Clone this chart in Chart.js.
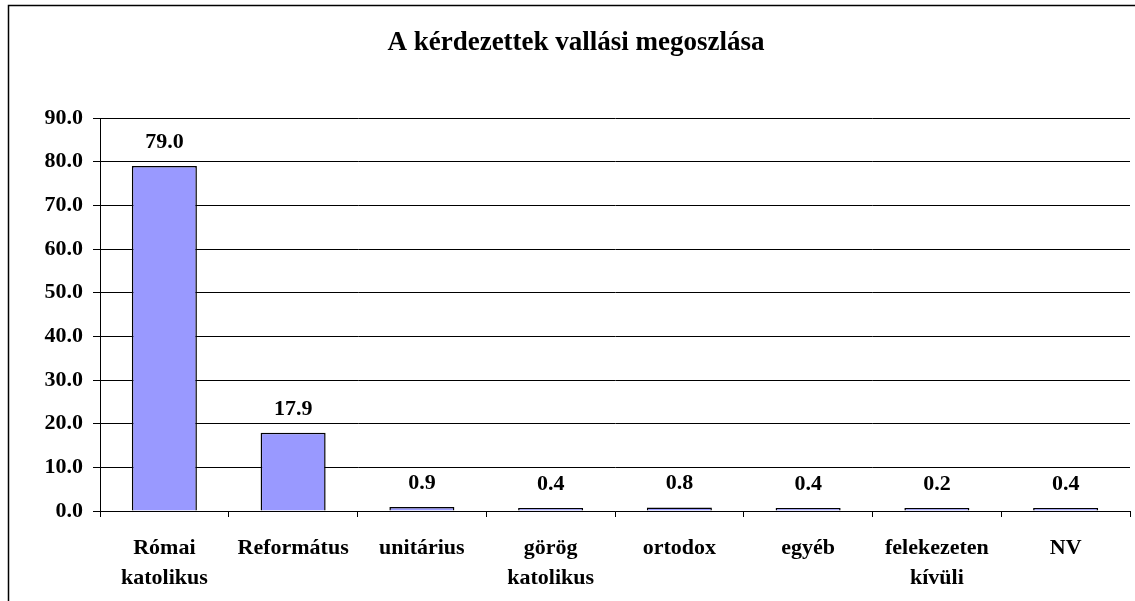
<!DOCTYPE html>
<html>
<head>
<meta charset="utf-8">
<script src="https://cdn.jsdelivr.net/npm/chart.js@4.4.1/dist/chart.umd.min.js"></script>
<style>
  html, body { margin: 0; padding: 0; background: #fff; }
  #wrap { width: 1135px; height: 601px; }
</style>
</head>
<body>
<div id="wrap"><canvas id="chart-vallas"></canvas></div>
<script>
// Adatok
const kategoriak = [
    ['Római', 'katolikus'],
    'Református',
    'unitárius',
    ['görög', 'katolikus'],
    'ortodox',
    'egyéb',
    ['felekezeten', 'kívüli'],
    'NV'
];
const aranyok = [79.0, 17.9, 0.9, 0.4, 0.8, 0.4, 0.2, 0.4];
const yTickek = [0, 10, 20, 30, 40, 50, 60, 70, 80, 90];

const betu = 'Liberation Serif, "Times New Roman", serif';

// Keret a diagram körül
const keretPlugin = {
    id: 'keret',
    beforeDraw(chart) {
        const ctx = chart.ctx;
        ctx.save();
        ctx.strokeStyle = '#000';
        ctx.lineWidth = 1.5;
        ctx.strokeRect(8.5, 5.5, 2000, 2000);
        ctx.restore();
    }
};

// Értékek az oszlopok fölött
const ertekPlugin = {
    id: 'ertekek',
    afterDatasetsDraw(chart) {
        const ctx = chart.ctx;
        const meta = chart.getDatasetMeta(0);
        ctx.save();
        ctx.font = 'bold 22px ' + betu;
        ctx.fillStyle = '#000';
        ctx.textAlign = 'center';
        ctx.textBaseline = 'middle';
        meta.data.forEach((bar, i) => {
            ctx.fillText(aranyok[i].toFixed(1), bar.x, bar.y - 24);
        });
        ctx.restore();
    }
};

const ctx = document.getElementById('chart-vallas').getContext('2d');

new Chart(ctx, {
    type: 'bar',
    data: {
        labels: kategoriak,
        datasets: [{
            data: aranyok,
            backgroundColor: '#9999FF',
            borderColor: '#000',
            borderWidth: 1.5,
            minBarLength: 3,
            barPercentage: 0.505,
            categoryPercentage: 1
        }]
    },
    options: {
        responsive: true,
        maintainAspectRatio: false,
        animation: false,
        layout: { padding: { left: 22, right: 5, bottom: 0, top: 0 } },
        plugins: {
            legend: { display: false },
            tooltip: { enabled: false },
            title: {
                display: true,
                text: 'A kérdezettek vallási megoszlása',
                color: '#000',
                font: { family: betu, size: 27, weight: 'bold', lineHeight: 1.2 },
                padding: { top: 27, bottom: 58.6 }
            }
        },
        scales: {
            x: {
                grid: {
                    display: true,
                    offset: true,
                    drawOnChartArea: false,
                    drawTicks: true,
                    tickLength: 6,
                    color: '#000'
                },
                border: { color: '#000', width: 1 },
                ticks: {
                    color: '#000',
                    padding: 16,
                    maxRotation: 0,
                    autoSkip: false,
                    font: { family: betu, size: 22, weight: 'bold', lineHeight: '30px' }
                },
                afterFit(scale) { scale.height = 90; }
            },
            y: {
                min: 0,
                max: 90,
                afterBuildTicks(scale) {
                    scale.ticks = yTickek.map(v => ({ value: v }));
                },
                grid: {
                    color: '#000',
                    lineWidth: 1,
                    tickLength: 7
                },
                border: { color: '#000', width: 1 },
                ticks: {
                    color: '#000',
                    padding: 10,
                    font: { family: betu, size: 22, weight: 'bold' },
                    callback: v => v.toFixed(1)
                },
                afterFit(scale) { scale.width = 78; }
            }
        }
    },
    plugins: [keretPlugin, ertekPlugin]
});
</script>
</body>
</html>
